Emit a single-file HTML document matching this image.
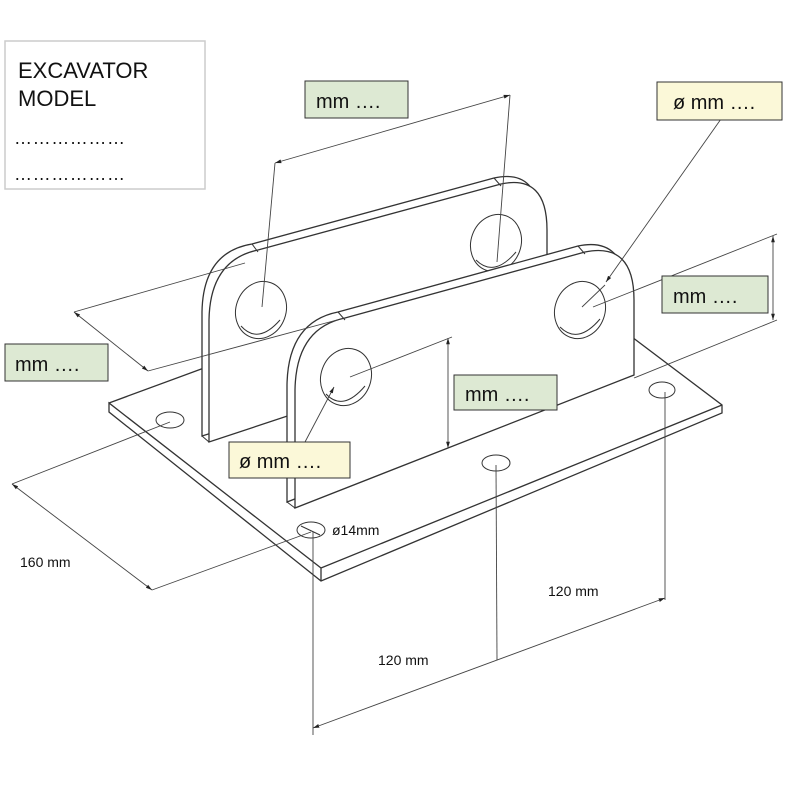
<!DOCTYPE html>
<html><head><meta charset="utf-8"><style>
body{margin:0;background:#fff}
svg{display:block}
text{font-family:"Liberation Sans",sans-serif}
</style></head><body>
<svg width="800" height="800" viewBox="0 0 800 800" xmlns="http://www.w3.org/2000/svg">
<defs>
<marker id="a" viewBox="0 0 10 10" refX="10" refY="5" markerWidth="7" markerHeight="7" orient="auto-start-reverse"><path d="M0,2 L10,5 L0,8 z" fill="#222"/></marker>
</defs>
<rect x="0" y="0" width="800" height="800" fill="#fff"/>
<rect x="5" y="41" width="200" height="148" fill="#fff" stroke="#ccc" stroke-width="1.5"/>
<text x="18" y="78" font-size="22" fill="#111">EXCAVATOR</text>
<text x="18" y="106" font-size="22" fill="#111">MODEL</text>
<text x="14" y="144" font-size="18" fill="#111" letter-spacing="0.6">………………</text>
<text x="14" y="180" font-size="18" fill="#111" letter-spacing="0.6">………………</text>

<g stroke="#333" fill="none" stroke-width="1.3">
<path d="M109,403 L420,290 L722,405 L722,413 L321,581 L109,412 Z" fill="#fff" stroke="none"/>
<path d="M109,403 L204,368"/>
<path d="M632,337 L722,405 L722,413 L321,581 L109,412 L109,403 L321,568 L722,405 M321,568 L321,581"/>
<g stroke-width="1">
<ellipse cx="170" cy="420" rx="14" ry="8"/>
<ellipse cx="496" cy="463" rx="14" ry="8"/>
<ellipse cx="311" cy="530" rx="14" ry="8"/>
<ellipse cx="662" cy="390" rx="13" ry="8"/>
<line x1="301" y1="526" x2="320" y2="535"/>
</g>
<path d="M202,436 L202,312 Q203,252 252,244 L494,178 Q540,168 540,225 L540,330 L202,436 Z" fill="#fff"/>
<path d="M209,442 L209,320 Q210,260 258,250 L501,184 Q547,174 547,230 L547,330 L209,442 Z" fill="#fff"/>
<g stroke-width="1">
<line x1="202" y1="436" x2="209" y2="442"/><line x1="252" y1="244" x2="258" y2="252"/><line x1="494" y1="178" x2="501" y2="186"/>
<ellipse cx="261" cy="310" rx="25" ry="29" transform="rotate(20 261 310)"/>
<path d="M241,326 Q258,345 280,320"/>
<ellipse cx="496" cy="243" rx="25" ry="29" transform="rotate(20 496 243)"/>
<path d="M476,260 Q494,278 516,252"/>
</g>
<path d="M287,502 L287,385 Q288,322 338,312 L578,246 Q626,236 626,295 L626,370 Z" fill="#fff"/>
<path d="M295,508 L295,390 Q296,328 345,318 L585,252 Q634,242 634,300 L634,375 Z" fill="#fff"/>
<g stroke-width="1">
<line x1="287" y1="502" x2="295" y2="508"/><line x1="338" y1="312" x2="345" y2="320"/><line x1="578" y1="246" x2="585" y2="254"/>
<ellipse cx="346" cy="377" rx="25" ry="29" transform="rotate(20 346 377)"/>
<path d="M326,394 Q343,412 365,386"/>
<ellipse cx="580" cy="310" rx="25" ry="29" transform="rotate(20 580 310)"/>
<path d="M560,327 Q578,345 600,319"/>
</g>
</g>

<g stroke="#444" fill="none" stroke-width="0.9">
<line x1="275" y1="163" x2="510" y2="95" marker-start="url(#a)" marker-end="url(#a)"/>
<line x1="275" y1="163" x2="262" y2="307"/>
<line x1="510" y1="95" x2="497" y2="262"/>
<line x1="74" y1="312" x2="148" y2="371" marker-start="url(#a)" marker-end="url(#a)"/>
<line x1="74" y1="312" x2="245" y2="263"/>
<line x1="148" y1="371" x2="337" y2="320"/>
<line x1="773" y1="236" x2="773" y2="320" marker-start="url(#a)" marker-end="url(#a)"/>
<line x1="777" y1="234" x2="593" y2="307"/>
<line x1="777" y1="320" x2="634" y2="378"/>
<line x1="721" y1="119" x2="606" y2="282" marker-end="url(#a)"/>
<line x1="605" y1="285" x2="582" y2="307"/>
<line x1="305" y1="442" x2="334" y2="387" marker-end="url(#a)"/>
<line x1="448" y1="338" x2="448" y2="448" marker-start="url(#a)" marker-end="url(#a)"/>
<line x1="452" y1="337" x2="350" y2="377"/>
<line x1="12" y1="484" x2="152" y2="590" marker-start="url(#a)" marker-end="url(#a)"/>
<line x1="12" y1="484" x2="170" y2="422"/>
<line x1="152" y1="590" x2="311" y2="532"/>
<line x1="313" y1="532" x2="313" y2="735"/>
<line x1="496" y1="465" x2="497" y2="660"/>
<line x1="665" y1="392" x2="665" y2="600"/>
<line x1="313" y1="728" x2="665" y2="598" marker-start="url(#a)" marker-end="url(#a)"/>
</g>

<g font-size="20" fill="#111">
<rect x="305" y="81" width="103" height="37" fill="#dde9d3" stroke="#333"/>
<text x="316" y="108">mm ….</text>
<rect x="657" y="82" width="125" height="38" fill="#fbf8d8" stroke="#333"/>
<text x="673" y="109">ø mm ….</text>
<rect x="662" y="276" width="106" height="37" fill="#dde9d3" stroke="#333"/>
<text x="673" y="303">mm ….</text>
<rect x="5" y="344" width="103" height="37" fill="#dde9d3" stroke="#333"/>
<text x="15" y="371">mm ….</text>
<rect x="454" y="375" width="103" height="35" fill="#dde9d3" stroke="#333"/>
<text x="465" y="401">mm ….</text>
<rect x="229" y="442" width="121" height="36" fill="#fbf8d8" stroke="#333"/>
<text x="239" y="468">ø mm ….</text>
</g>
<g font-size="14" fill="#111">
<text x="332" y="535">ø14mm</text>
<text x="20" y="567">160 mm</text>
<text x="548" y="596">120 mm</text>
<text x="378" y="665">120 mm</text>
</g>
</svg>
</body></html>
